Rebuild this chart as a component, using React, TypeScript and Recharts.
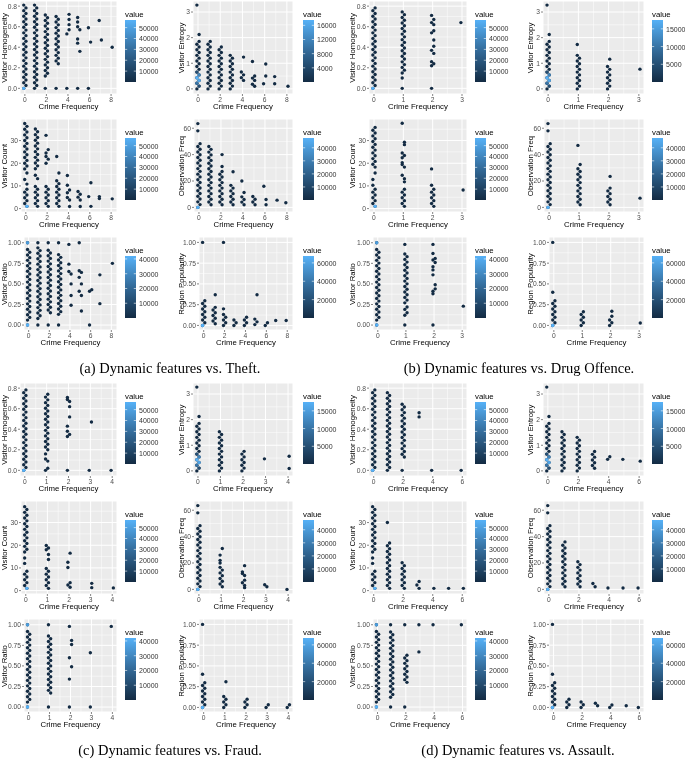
import React from "react";
import { ScatterChart, Scatter, XAxis, YAxis, CartesianGrid } from "recharts";

// a run is either one occupied hex bin (number) or a contiguous stack of bins [from, to]
type Run = number | [number, number];
type Col = [number, Run[]];
type Hot = [number, number, number];

const FONT = '"Liberation Sans", Arial, sans-serif';
const LOW = [0x13, 0x2b, 0x43];
const MID = [0x33, 0x6a, 0x98];
const HIGH = [0x56, 0xb1, 0xf7];

// ---------- axis ticks ----------
const theftXTicks = [0, 2, 4, 6, 8];
const drugXTicks = [0, 1, 2, 3];
const fraudXTicks = [0, 1, 2, 3, 4];
const assaultXTicks = [0, 2, 4, 6];

const homogeneityTicks = [0, 0.2, 0.4, 0.6, 0.8];
const entropyTicks = [0, 1, 2, 3];
const countTicks = [0, 10, 20, 30];
const obsTicks = [0, 20, 40, 60];
const ratioTicks = [0, 0.25, 0.5, 0.75, 1];
const popTicks = [0, 0.25, 0.5, 0.75, 1];

// ---------- colour legend ticks ----------
const homogeneityLegend = [10000, 20000, 30000, 40000, 50000];
const entropyLegendTheft = [4000, 8000, 12000, 16000];
const entropyLegend = [5000, 10000, 15000];
const countLegend = [10000, 20000, 30000, 40000, 50000];
const obsLegend = [10000, 20000, 30000, 40000];
const ratioLegend = [10000, 20000, 30000, 40000];
const popLegend = [20000, 40000, 60000];

// ---------- dense (light) bins: [x, y, count] ----------
const homogeneityHot: Hot[] = [[0, 0, 57000]];
const entropyHot: Hot[] = [
  [0, 0.109, 5000],
  [0, 0.218, 10000],
  [0, 0.327, 16000],
  [0, 0.436, 17500],
  [0, 0.545, 12000],
  [0, 0.654, 5000],
];
const countHot: Hot[] = [[0, 1, 57000]];
const obsHot: Hot[] = [[0, 0, 47500]];
const ratioHot: Hot[] = [[0, 0, 42000], [0, 1, 36000]];
const popHot: Hot[] = [[0, 0, 67500]];

// ---------- (a) Theft ----------
const theftHomogeneity: Col[] = [
  [0, [[0, 0.81]]],
  [1, [[0, 0.81]]],
  [2, [0, [0.12, 0.72]]],
  [3, [0, [0.24, 0.71]]],
  [4, [0, 0.53, 0.57, 0.62, 0.67, 0.72]],
  [5, [0, 0.36, 0.44, 0.48, 0.57, 0.6, 0.645, 0.69]],
  [6, [0, 0.45, 0.59]],
  [7, [0.47, 0.66]],
  [8, [0.4]],
];
const theftEntropy: Col[] = [
  [0, [[0, 1.83], 2.12, 3.27]],
  [1, [[0, 1.83]]],
  [2, [[0, 1.65]]],
  [3, [[0, 1.35]]],
  [4, [[0.33, 0.7], 1.24]],
  [5, [0.1, 0.18, 0.33, 0.42, 0.5, 1.07]],
  [6, [0.2, 0.5, 0.97]],
  [7, [0.2, 0.48]],
  [8, [0.1]],
];
const theftCount: Col[] = [
  [0, [[1, 8.6], 10.8, 12.8, 15.7, [17.5, 37.3]]],
  [1, [[1, 10.3], 13.2, 14.7, [17.6, 34.8]]],
  [2, [[1, 10.3], 20, 21.8, 23, 24.5, 26, 32.3]],
  [3, [[1, 12.5], 15.7, 23]],
  [4, [0.9, 3.8, 4.9, 7, 8.2, 10.3, 14.6]],
  [5, [0.9, [3.8, 8.2]]],
  [6, [1, 5.3, 11.4]],
  [7, [4.4, 5.3]],
  [8, [4.3]],
];
const theftObs: Col[] = [
  [0, [[0, 48.5], 58, 63.5]],
  [1, [[2, 45.5]]],
  [2, [[2, 28], 31, 40]],
  [3, [[2, 17], 27]],
  [4, [2, 4, 6, 8, 11.3, 20]],
  [5, [[2, 8]]],
  [6, [2, 6, 16]],
  [7, [5.5]],
  [8, [3.5]],
];
const theftRatio: Col[] = [
  [0, [0, [0.06, 0.92], 1]],
  [1, [0, [0.08, 0.93], 1]],
  [2, [0, [0.15, 0.9], 1]],
  [3, [0, [0.13, 0.86], 1]],
  [4, [0.24, 0.36, 0.5, 0.62, 0.65, 0.74, 0.98]],
  [5, [0.17, 0.36, 0.41, 0.5, 0.58, 0.64, 0.66, 1]],
  [6, [0, 0.41, 0.43]],
  [7, [0.26, 0.61]],
  [8, [0.75]],
];
const theftPop: Col[] = [
  [0, [[0, 0.31], 1]],
  [1, [[0.02, 0.23], 0.37]],
  [2, [[0, 0.14], 0.2, 1]],
  [3, [[0, 0.08]]],
  [4, [[0, 0.09]]],
  [5, [[0.01, 0.07], 0.37]],
  [6, [[0, 0.05]]],
  [7, [0.06]],
  [8, [0.06]],
];

// ---------- (b) Drug Offence ----------
const drugHomogeneity: Col[] = [
  [0, [[0, 0.8]]],
  [1, [0, 0.1, [0.15, 0.76]]],
  [2, [0, 0.22, 0.24, 0.26, 0.34, 0.37, 0.41, 0.47, 0.54, 0.56, 0.62, 0.64, 0.67, 0.71]],
  [3, [0.64]],
];
const drugEntropy: Col[] = [
  [0, [[0, 1.83], 2.12, 3.27]],
  [1, [[0, 1.35], 1.73]],
  [2, [[0, 0.9], 1.16]],
  [3, [0.77]],
];
const drugCount: Col[] = [
  [0, [[1, 8.6], 10.3, 12.8, 15.7, [18.3, 35.5]]],
  [1, [[1, 8.6], 11.8, 13.2, 14.7, 18.3, 19.4, 20.2, 22.4, 23.4, 24.5, 28.2, 29.3, 37.6]],
  [2, [[1, 8.5], 10.3, 17.5]],
  [3, [8.2]],
];
const drugObs: Col[] = [
  [0, [[0, 48.5], 58, 63.5]],
  [1, [[2, 29.5], 32.5, 47]],
  [2, [[2, 14.5], 23.5]],
  [3, [7]],
];
const drugRatio: Col[] = [
  [0, [0, [0.06, 0.92], 1]],
  [1, [0, 0.12, 0.15, 0.19, 0.22, [0.27, 0.87], 0.98]],
  [2, [0, 0.38, 0.41, 0.44, 0.49, 0.61, 0.67, 0.71, 0.76, 0.79, 0.81, 0.87, 0.98]],
  [3, [0.23]],
];
const drugPop: Col[] = [
  [0, [[0, 0.32], 0.4, 1]],
  [1, [[0, 0.17]]],
  [2, [[0, 0.07], 0.11, 0.17]],
  [3, [0.03]],
];

// ---------- (c) Fraud ----------
const fraudHomogeneity: Col[] = [
  [0, [[0, 0.8]]],
  [1, [0, 0.02, 0.09, 0.11, 0.16, [0.2, 0.74]]],
  [2, [0, 0.33, 0.35, 0.38, 0.43, 0.52, 0.62, 0.67, 0.69, 0.71]],
  [3, [0, 0.47]],
  [4, [0]],
];
const fraudEntropy: Col[] = [
  [0, [[0, 1.83], 2.12, 3.27]],
  [1, [[0, 1.55]]],
  [2, [[0, 0.8]]],
  [3, [0.47]],
  [4, [0.09, 0.57]],
];
const fraudCount: Col[] = [
  [0, [[1, 8.4], 12, 14.4, [17, 37.5]]],
  [1, [[1, 10], 13.7, 15.9, 18, 18.8, 19.9]],
  [2, [1.5, 2.5, 3.5, 10.2, 12.5, 16.5]],
  [3, [1.3, 3.2]],
  [4, [1.2]],
];
const fraudObs: Col[] = [
  [0, [[0, 48.5], 58, 63.5]],
  [1, [[2, 16.5], 20, 22, 26, 31]],
  [2, [1.3, 3, 5, 7, 10.5, 12, 13.3, 18]],
  [3, [2, 3.5]],
  [4, [0]],
];
const fraudRatio: Col[] = [
  [0, [0, [0.06, 0.92], 1]],
  [1, [0, [0.17, 0.87], 1]],
  [2, [0, 0.34, 0.49, 0.6, 0.76, 0.81, 0.98]],
  [3, [0, 0.66]],
  [4, [0.98]],
];
const fraudPop: Col[] = [
  [0, [[0, 0.32], 0.4, 1]],
  [1, [[0, 0.14], 0.31]],
  [2, [[0, 0.09]]],
  [3, [[0, 0.03]]],
  [4, [[0, 0.03]]],
];

// ---------- (d) Assault ----------
const assaultHomogeneity: Col[] = [
  [0, [[0, 0.8]]],
  [1, [[0, 0.76]]],
  [2, [0, [0.13, 0.66]]],
  [3, [0.52, 0.56]],
  [4, [0]],
  [6, [0]],
];
const assaultEntropy: Col[] = [
  [0, [[0, 1.83], 2.12, 3.27]],
  [1, [[0, 1.6]]],
  [2, [[0, 1.3]]],
  [3, [[0.1, 0.75]]],
  [4, [0.45, 0.55]],
  [5, [0.45]],
  [6, [0.38]],
];
const assaultCount: Col[] = [
  [0, [[1, 8.4], 12, 14.4, [17, 37]]],
  [1, [[1, 21], 30]],
  [2, [[1, 12.5]]],
  [3, [1, 2.5, 4]],
  [4, [1]],
  [5, [1]],
  [6, [1]],
];
const assaultObs: Col[] = [
  [0, [[0, 48.5], 58, 63.5]],
  [1, [[2, 33], 36]],
  [2, [[2, 22]]],
  [3, [2, 4.5]],
  [4, [1]],
  [5, [1]],
  [6, [1]],
];
const assaultRatio: Col[] = [
  [0, [0, [0.06, 0.92], 1]],
  [1, [0, [0.12, 0.92], 1]],
  [2, [0, [0.3, 0.63], 1]],
  [3, [0.67, 1]],
  [4, [1]],
  [6, [1]],
];
const assaultPop: Col[] = [
  [0, [[0, 0.32], 0.4, 1]],
  [1, [[0, 0.12]]],
  [2, [[0, 0.08]]],
  [3, [0.02, 0.05]],
  [4, [0, 0.03]],
  [5, [0.02]],
  [6, [0]],
];

// feature order: row by row, left then right
const features = [
  { name: "Visitor Homogeneity", ticks: homogeneityTicks, domain: [-0.055, 0.85], digits: 1, step: 0.027, legend: homogeneityLegend, max: 57000, hot: homogeneityHot },
  { name: "Visitor Entropy", ticks: entropyTicks, domain: [-0.2, 3.43], digits: 0, step: 0.109, legend: entropyLegend, max: 17500, hot: entropyHot },
  { name: "Visitor Count", ticks: countTicks, domain: [-1.5, 39.5], digits: 0, step: 1.25, legend: countLegend, max: 57000, hot: countHot },
  { name: "Observation Freq", ticks: obsTicks, domain: [-3.5, 67], digits: 0, step: 2.1, legend: obsLegend, max: 47500, hot: obsHot },
  { name: "Visitor Ratio", ticks: ratioTicks, domain: [-0.06, 1.07], digits: 2, step: 0.033, legend: ratioLegend, max: 42000, hot: ratioHot },
  { name: "Region Popularity", ticks: popTicks, domain: [-0.055, 1.065], digits: 2, step: 0.033, legend: popLegend, max: 67500, hot: popHot },
];

const crimes = [
  { caption: "(a) Dynamic features vs. Theft.", xTicks: theftXTicks, xDomain: [-0.45, 8.55], cols: [theftHomogeneity, theftEntropy, theftCount, theftObs, theftRatio, theftPop], side: 0, top: 0, captionX: 170, entropyLegend: entropyLegendTheft },
  { caption: "(b) Dynamic features vs. Drug Offence.", xTicks: drugXTicks, xDomain: [-0.17, 3.17], cols: [drugHomogeneity, drugEntropy, drugCount, drugObs, drugRatio, drugPop], side: 1, top: 0, captionX: 519, entropyLegend },
  { caption: "(c) Dynamic features vs. Fraud.", xTicks: fraudXTicks, xDomain: [-0.22, 4.22], cols: [fraudHomogeneity, fraudEntropy, fraudCount, fraudObs, fraudRatio, fraudPop], side: 0, top: 382, captionX: 170, entropyLegend },
  { caption: "(d) Dynamic features vs. Assault.", xTicks: assaultXTicks, xDomain: [-0.32, 6.32], cols: [assaultHomogeneity, assaultEntropy, assaultCount, assaultObs, assaultRatio, assaultPop], side: 1, top: 382, captionX: 518, entropyLegend },
];

// horizontal geometry of the four subplot columns
const colGeom = [
  { panelLeft: [20, 21, 24], panelRight: 117, titleX: 5, legendLeft: 125 },
  { panelLeft: [193, 194, 199], panelRight: 293, titleX: 182, legendLeft: 303 },
  { panelLeft: [369, 369, 373], panelRight: 467, titleX: 353, legendLeft: 475 },
  { panelLeft: [543, 544, 549], panelRight: 644, titleX: 531, legendLeft: 652 },
];

const toHex = (c: number[]) => "#" + c.map((v) => Math.round(v).toString(16).padStart(2, "0")).join("");
const lowHex = toHex(LOW);

function countColor(v: number, max: number) {
  const t = Math.max(0, Math.min(1, (v - 1) / (max - 1)));
  const [a, b, u] = t < 0.5 ? [LOW, MID, t * 2] : [MID, HIGH, (t - 0.5) * 2];
  return toHex(a.map((x, i) => x + (b[i] - x) * (u as number)));
}

function expandBins(cols: Col[], step: number) {
  const out: { x: number; y: number; k: number; c: string }[] = [];
  for (const [x, runs] of cols) {
    for (const r of runs) {
      if (Array.isArray(r)) {
        for (let v = r[0]; v <= r[1] + step * 0.3; v += step) {
          out.push({ x, y: v, k: Math.round(v / step) % 2, c: lowHex });
        }
      } else {
        out.push({ x, y: r, k: Math.round(r / step) % 2, c: lowHex });
      }
    }
  }
  return out;
}

function minorOf(ticks: number[], domain: number[]) {
  const step = ticks[1] - ticks[0];
  const vals = [ticks[0] - step / 2, ...ticks.map((t) => t + step / 2)];
  return vals.filter((v) => v > domain[0] && v < domain[1]);
}

// hex bins are tiny, so they read as round dots; alternate rows shift sideways
const binShape = (p: any) => {
  const { cx, cy, payload } = p;
  if (cx == null || cy == null) return <g />;
  const x = cx + (payload.k ? 1.1 : -1.1);
  return <circle cx={x} cy={cy} r={1.7} fill={payload.c} />;
};

const YW = 20;
const XH = 12;

function ColorLegend({ id, left, top, ticks, max }: { id: string; left: number; top: number; ticks: number[]; max: number }) {
  const barTop = 19;
  const barH = 62;
  const barW = 11;
  const yOf = (v: number) => barTop + barH - ((v - 1) / (max - 1)) * barH;
  return (
    <div style={{ position: "absolute", left, top, width: 45, height: 90 }}>
      <svg style={{ position: "absolute", left: 0, top: 0 }} width={12} height={90}>
        <defs>
          <linearGradient id={id} x1="0" y1="1" x2="0" y2="0">
            <stop offset="0%" stopColor={toHex(LOW)} />
            <stop offset="50%" stopColor={toHex(MID)} />
            <stop offset="100%" stopColor={toHex(HIGH)} />
          </linearGradient>
        </defs>
        <rect x={0} y={barTop} width={barW} height={barH} fill={`url(#${id})`} />
        {ticks.map((t) => (
          <g key={t}>
            <line x1={0} x2={2.2} y1={yOf(t)} y2={yOf(t)} stroke="#fff" strokeWidth={0.6} />
            <line x1={barW - 2.2} x2={barW} y1={yOf(t)} y2={yOf(t)} stroke="#fff" strokeWidth={0.6} />
          </g>
        ))}
      </svg>
      <div style={{ position: "absolute", left: 0, top: 10, fontSize: 7.8, fontFamily: FONT, color: "#000", lineHeight: 1 }}>value</div>
      {ticks.map((t) => (
        <div
          key={t}
          style={{
            position: "absolute",
            left: barW + 3,
            top: yOf(t),
            transform: "translateY(-50%)",
            fontSize: 7,
            fontFamily: FONT,
            color: "#333",
            lineHeight: 1,
          }}
        >
          {t}
        </div>
      ))}
    </div>
  );
}

function Subplot({ crimeIdx, featIdx }: { crimeIdx: number; featIdx: number }) {
  const crime = crimes[crimeIdx];
  const feat = features[featIdx];
  const row = Math.floor(featIdx / 2);
  const geom = colGeom[crime.side * 2 + (featIdx % 2)];
  const pl = geom.panelLeft[row];
  const pr = geom.panelRight;
  const pt = crime.top + 1 + 118 * row;
  const ph = 93;
  const pw = pr - pl;
  const bins = expandBins(crime.cols[featIdx], feat.step);
  const hot = feat.hot.map(([x, y, v]) => ({ x, y, k: Math.round(y / feat.step) % 2, c: countColor(v, feat.max) }));
  const legendTicks = featIdx === 1 ? crime.entropyLegend : feat.legend;
  const tickStyle = { fontSize: 6.7, fill: "#4D4D4D", fontFamily: FONT };
  return (
    <>
      <div style={{ position: "absolute", left: pl - YW, top: pt }}>
        <ScatterChart width={pw + YW} height={ph + XH} margin={{ top: 0, right: 0, bottom: 0, left: 0 }}>
          <CartesianGrid fill="#EBEBEB" stroke="#FFFFFF" strokeWidth={1} />
          <CartesianGrid
            stroke="#FFFFFF"
            strokeWidth={0.5}
            horizontalValues={minorOf(feat.ticks, feat.domain)}
            verticalValues={minorOf(crime.xTicks, crime.xDomain)}
          />
          <XAxis
            type="number"
            dataKey="x"
            domain={crime.xDomain}
            ticks={crime.xTicks}
            allowDataOverflow
            interval={0}
            height={XH}
            tickSize={2}
            tickMargin={1}
            axisLine={false}
            tickLine={{ stroke: "#333", strokeWidth: 0.6 }}
            tick={tickStyle}
          />
          <YAxis
            type="number"
            dataKey="y"
            domain={feat.domain}
            ticks={feat.ticks}
            allowDataOverflow
            interval={0}
            width={YW}
            tickSize={2}
            tickMargin={1}
            axisLine={false}
            tickLine={{ stroke: "#333", strokeWidth: 0.6 }}
            tick={tickStyle}
            tickFormatter={(v: number) => v.toFixed(feat.digits)}
          />
          <Scatter data={bins} shape={binShape} isAnimationActive={false} />
          <Scatter data={hot} shape={binShape} isAnimationActive={false} />
        </ScatterChart>
      </div>
      <div
        style={{
          position: "absolute",
          left: geom.titleX,
          top: pt + ph / 2,
          transform: "translate(-50%, -50%) rotate(-90deg)",
          whiteSpace: "nowrap",
          fontSize: 7.8,
          fontFamily: FONT,
          color: "#000",
          lineHeight: 1,
        }}
      >
        {feat.name}
      </div>
      <div
        style={{
          position: "absolute",
          left: pl + pw / 2,
          top: pt + ph + 13,
          transform: "translate(-50%, -50%)",
          whiteSpace: "nowrap",
          fontSize: 7.8,
          fontFamily: FONT,
          color: "#000",
          lineHeight: 1,
        }}
      >
        Crime Frequency
      </div>
      <ColorLegend id={`lg${crimeIdx}_${featIdx}`} left={geom.legendLeft} top={pt} ticks={legendTicks} max={feat.max} />
    </>
  );
}

export default function App() {
  return (
    <div
      style={{
        position: "absolute",
        left: 0,
        top: 0,
        width: 685,
        height: 759,
        background: "#fff",
        overflow: "hidden",
        willChange: "transform",
      }}
    >
      {crimes.map((c, ci) => (
        <React.Fragment key={c.caption}>
          {features.map((f, fi) => (
            <Subplot key={f.name} crimeIdx={ci} featIdx={fi} />
          ))}
          <div
            style={{
              position: "absolute",
              left: c.captionX,
              top: c.top + 368,
              transform: "translate(-50%, -50%)",
              whiteSpace: "nowrap",
              fontSize: 14.5,
              fontFamily: '"Liberation Serif", "Times New Roman", serif',
              color: "#000",
              lineHeight: 1,
            }}
          >
            {c.caption}
          </div>
        </React.Fragment>
      ))}
    </div>
  );
}
